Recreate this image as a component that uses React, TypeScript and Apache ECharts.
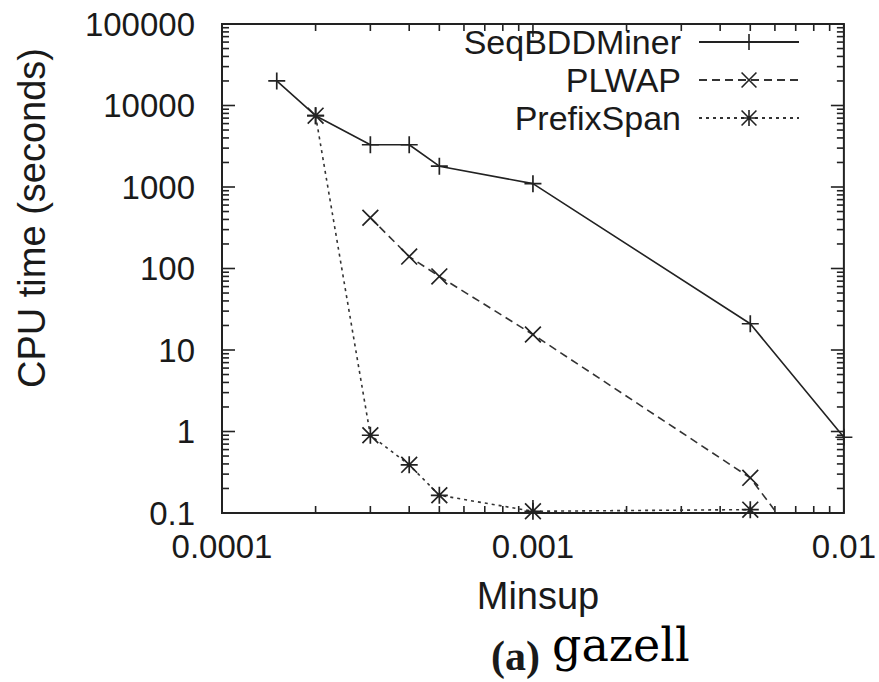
import React, { useEffect, useRef } from 'react';
import * as echarts from 'echarts';

// Minimum support thresholds (x) and CPU time in seconds (y) per miner
const minsup = [0.00015, 0.0002, 0.0003, 0.0004, 0.0005, 0.001, 0.005, 0.01];
const seqBDDMiner = [20000, 7500, 3300, 3300, 1800, 1100, 21, 0.85];
const plwap = [null, null, 420, 140, 80, 15.5, 0.27, 0.008];
const prefixSpan = [null, 7500, 0.9, 0.39, 0.165, 0.105, 0.11, null];

const xTickLabels = ['0.0001', '0.001', '0.01'];
const yTickLabels = ['0.1', '1', '10', '100', '1000', '10000', '100000'];
const minorMantissas = [2, 3, 4, 5, 6, 7, 8, 9];

const X_MIN = Number(xTickLabels[0]);
const X_MAX = Number(xTickLabels[xTickLabels.length - 1]);
const Y_MIN = Number(yTickLabels[0]);
const Y_MAX = Number(yTickLabels[yTickLabels.length - 1]);

const SANS = '"Liberation Sans", Arial, Helvetica, sans-serif';
const SERIF = '"Liberation Serif", "Times New Roman", serif';
const WIDE_SERIF = '"DejaVu Serif", "Liberation Serif", serif';
const INK = '#1a1a1a';

// gnuplot-like marker shapes, drawn as thin filled bars
const PLUS = 'path://M9,0h2v20h-2z M0,9h20v2h-20z';
const CROSS = 'path://M0,1.4L1.4,0L20,18.6L18.6,20Z M18.6,0L20,1.4L1.4,20L0,18.6Z';
const STAR =
  'path://M9,0h2v20h-2z M0,9h20v2h-20z M0,1.4L1.4,0L20,18.6L18.6,20Z M18.6,0L20,1.4L1.4,20L0,18.6Z';

const pairs = (ys: (number | null)[]) =>
  minsup.map((x, i) => (ys[i] == null ? null : [x, ys[i]])).filter((p) => p !== null);

const labelFor = (labels: string[]) => (v: number) => {
  const hit = labels.find((s) => Math.abs(Math.log10(Number(s)) - Math.log10(v)) < 1e-6);
  return hit ?? '';
};

// Major ticks at each decade, minor ticks at 2..9 within each decade
const buildTicks = (labels: string[]) => {
  const majors = labels.map(Number);
  const minors: number[] = [];
  for (let i = 0; i < majors.length - 1; i++) {
    for (const m of minorMantissas) minors.push(majors[i] * m);
  }
  return { majors, minors };
};

const xt = buildTicks(xTickLabels);
const yt = buildTicks(yTickLabels);
const tickData = [
  ...xt.majors.map((v) => [v, Y_MIN, 1, 0]),
  ...xt.minors.map((v) => [v, Y_MIN, 0, 0]),
  ...yt.majors.map((v) => [X_MIN, v, 1, 1]),
  ...yt.minors.map((v) => [X_MIN, v, 0, 1]),
];

// Inward ticks mirrored on all four sides of the frame
const renderTicks = (_params: any, api: any) => {
  const v0 = api.value(0);
  const v1 = api.value(1);
  const major = api.value(2);
  const axis = api.value(3);
  const len = major ? 13 : 7;
  const style = { stroke: '#222', lineWidth: 1.6 };
  if (axis === 0) {
    const b = api.coord([v0, Y_MIN]);
    const t = api.coord([v0, Y_MAX]);
    return {
      type: 'group',
      children: [
        { type: 'line', shape: { x1: b[0], y1: b[1], x2: b[0], y2: b[1] - len }, style },
        { type: 'line', shape: { x1: t[0], y1: t[1], x2: t[0], y2: t[1] + len }, style },
      ],
    };
  }
  const l = api.coord([X_MIN, v1]);
  const r = api.coord([X_MAX, v1]);
  return {
    type: 'group',
    children: [
      { type: 'line', shape: { x1: l[0], y1: l[1], x2: l[0] + len, y2: l[1] }, style },
      { type: 'line', shape: { x1: r[0], y1: r[1], x2: r[0] - len, y2: r[1] }, style },
    ],
  };
};

export default function App() {
  const ref = useRef<HTMLDivElement>(null);

  useEffect(() => {
    document.body.style.margin = '0';
    if (!ref.current) return;
    const chart = echarts.init(ref.current, undefined, { renderer: 'svg' });

    const lineBase = {
      type: 'line',
      symbolSize: 17,
      symbolKeepAspect: true,
      clip: true,
      connectNulls: false,
      itemStyle: { color: '#222' },
    };

    chart.setOption({
      animation: false,
      backgroundColor: '#ffffff',
      grid: {
        left: 222,
        right: 32,
        top: 24,
        bottom: 169,
        show: true,
        borderColor: '#222',
        borderWidth: 2,
        backgroundColor: 'transparent',
      },
      xAxis: {
        type: 'log',
        logBase: 10,
        min: X_MIN,
        max: X_MAX,
        axisLine: { show: false },
        axisTick: { show: false },
        splitLine: { show: false },
        minorTick: { show: false },
        axisLabel: {
          showMinLabel: true,
          showMaxLabel: true,
          margin: 17,
          fontFamily: SANS,
          fontSize: 33,
          color: INK,
          formatter: labelFor(xTickLabels),
        },
      },
      yAxis: {
        type: 'log',
        logBase: 10,
        min: Y_MIN,
        max: Y_MAX,
        axisLine: { show: false },
        axisTick: { show: false },
        splitLine: { show: false },
        minorTick: { show: false },
        axisLabel: {
          showMinLabel: true,
          showMaxLabel: true,
          margin: 27,
          fontFamily: SANS,
          fontSize: 33,
          color: INK,
          formatter: labelFor(yTickLabels),
        },
      },
      legend: {
        data: ['SeqBDDMiner', 'PLWAP', 'PrefixSpan'],
        orient: 'vertical',
        align: 'right',
        right: 74,
        top: 20,
        itemWidth: 100,
        itemHeight: 20,
        itemGap: 4,
        selectedMode: false,
        textStyle: {
          fontFamily: SANS,
          fontSize: 34,
          lineHeight: 34,
          color: INK,
          padding: [0, 13, 0, 0],
        },
      },
      graphic: [
        {
          type: 'text',
          x: 32,
          y: 218,
          rotation: Math.PI / 2,
          style: {
            text: 'CPU time (seconds)',
            fontFamily: SANS,
            fontSize: 38,
            fill: INK,
            align: 'center',
            verticalAlign: 'middle',
          },
        },
        {
          type: 'text',
          x: 538,
          y: 596,
          style: {
            text: 'Minsup',
            fontFamily: SANS,
            fontSize: 38,
            fill: INK,
            align: 'center',
            verticalAlign: 'middle',
          },
        },
        {
          type: 'text',
          x: 540,
          y: 656,
          style: {
            text: '(a)',
            fontFamily: SERIF,
            fontWeight: 'bold',
            fontSize: 42,
            fill: INK,
            align: 'right',
            verticalAlign: 'middle',
          },
        },
        {
          type: 'text',
          x: 552,
          y: 645,
          style: {
            text: 'gazell',
            fontFamily: WIDE_SERIF,
            fontSize: 46,
            fill: '#000',
            align: 'left',
            verticalAlign: 'middle',
          },
        },
      ],
      series: [
        {
          type: 'custom',
          name: 'ticks',
          silent: true,
          z: 1,
          clip: false,
          renderItem: renderTicks,
          data: tickData,
        },
        {
          ...lineBase,
          name: 'SeqBDDMiner',
          symbol: PLUS,
          lineStyle: { color: '#222', width: 1.6, type: 'solid' },
          data: pairs(seqBDDMiner),
          z: 4,
        },
        {
          ...lineBase,
          name: 'PLWAP',
          symbol: CROSS,
          lineStyle: { color: '#333', width: 1.6, type: [8, 5] },
          data: pairs(plwap),
          z: 3,
        },
        {
          ...lineBase,
          name: 'PrefixSpan',
          symbol: STAR,
          lineStyle: { color: '#333', width: 1.6, type: [3, 4] },
          data: pairs(prefixSpan),
          z: 2,
        },
      ],
    });

    return () => chart.dispose();
  }, []);

  return <div ref={ref} style={{ width: 879, height: 682 }} />;
}
